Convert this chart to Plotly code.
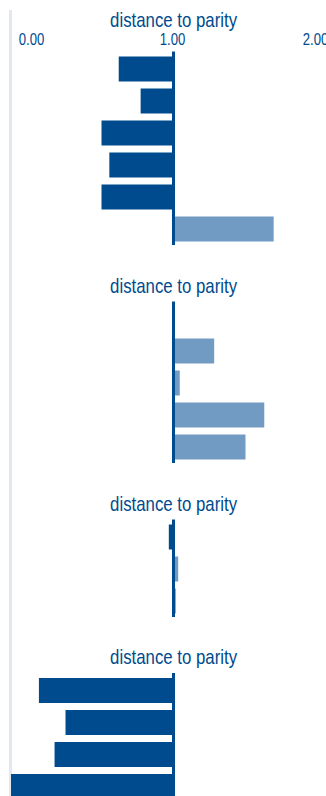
import plotly.graph_objects as go

# ---------------- data ----------------
panel_titles = ["distance to parity", "distance to parity", "distance to parity", "distance to parity"]

p1_categories = ["g1", "g2", "g3", "g4", "g5", "g6"]
p1_values = [0.65, 0.79, 0.54, 0.59, 0.54, 1.64]

p2_categories = ["h1", "h2", "h3", "h4", "h5"]
p2_values = [1.00, 1.26, 1.04, 1.58, 1.46]

p3_categories = ["k1", "k2", "k3"]
p3_values = [0.97, 1.03, 1.015]

p4_categories = ["m1", "m2", "m3", "m4"]
p4_values = [0.14, 0.31, 0.24, -0.05]

tick_values = [0, 1, 2]
tick_labels = ["0.00", "1.00", "2.00"]
parity = 1.0

# ---------------- style / layout ----------------
W, H = 326, 796
DARK = "#004b8d"
LIGHT = "#729bc4"
GREY = "#e2e7f0"
FONT = "Liberation Sans, Arial, sans-serif"
X_RANGE = [-0.0383, 1.9744]
SLOT = 32.0

panels = [
    (p1_categories, p1_values, 53, 245, 19),
    (p2_categories, p2_values, 303, 463, 285),
    (p3_categories, p3_values, 521, 617, 503),
    (p4_categories, p4_values, 674.5, 796, 656),
]


def py(px):
    return 1 - px / H


fig = go.Figure()
shapes = []
annotations = []

for i, (cats, vals, top, bot, title_px) in enumerate(panels):
    n = i + 1
    xa = "x" if n == 1 else f"x{n}"
    ya = "y" if n == 1 else f"y{n}"
    colors = [DARK if v < parity else LIGHT for v in vals]
    fig.add_trace(go.Bar(
        y=cats, x=[v - parity for v in vals], base=parity, orientation="h",
        marker=dict(color=colors, line=dict(width=0)),
        xaxis=xa, yaxis=ya, hoverinfo="skip", showlegend=False,
    ))
    n_slots = (bot - top) / SLOT
    xkey = "xaxis" if n == 1 else f"xaxis{n}"
    ykey = "yaxis" if n == 1 else f"yaxis{n}"
    fig.update_layout({
        xkey: dict(domain=[0, 1], range=X_RANGE, showgrid=False, zeroline=False,
                   showticklabels=False, showline=False, fixedrange=True,
                   anchor=ya),
        ykey: dict(domain=[py(bot), py(top)], range=[-0.5 + n_slots, -0.5],
                   type="category", categoryorder="array", categoryarray=cats,
                   showgrid=False, zeroline=False, showticklabels=False,
                   showline=False, fixedrange=True, anchor=xa),
    })
    shapes.append(dict(type="line", xref=xa, yref=f"{ya} domain", x0=parity, x1=parity,
                       y0=0, y1=1 + 1.5 / (bot - top), line=dict(color=DARK, width=3),
                       layer="above"))
    annotations.append(dict(text=panel_titles[i], xref=xa, x=parity, yref="paper",
                            y=py(title_px), xanchor="center", yanchor="middle",
                            showarrow=False, font=dict(family=FONT, size=20.5, color=DARK)))

# left separator line
shapes.append(dict(type="line", xref="paper", yref="paper", x0=-0.0016, x1=-0.0016,
                   y0=0, y1=py(10), line=dict(color=GREY, width=3), layer="below"))

# top tick labels
anchors = ["left", "center", "right"]
shifts = [-3, -1, 3]
for v, lab, anc, sh in zip(tick_values, tick_labels, anchors, shifts):
    annotations.append(dict(text=lab, xref="paper",
                            x=(v - X_RANGE[0]) / (X_RANGE[1] - X_RANGE[0]),
                            yref="paper", y=py(39.5), xanchor=anc, yanchor="middle",
                            xshift=sh,
                            showarrow=False, font=dict(family=FONT, size=16, color=DARK)))

fig.update_layout(
    width=W, height=H,
    margin=dict(l=11, r=0, t=0, b=0),
    paper_bgcolor="white", plot_bgcolor="rgba(0,0,0,0)",
    bargap=7 / 32,
    shapes=shapes, annotations=annotations,
    showlegend=False,
)

css_js = (
    "var s=document.createElement('style');"
    "s.textContent='html,body{margin:0;padding:0;overflow:hidden}"
    " .annotation-text{transform-box:fill-box;transform-origin:center;transform:scaleX(0.82)}';"
    "document.head.appendChild(s);"
)

fig.write_html("out.html", config={"displayModeBar": False}, post_script=css_js)
